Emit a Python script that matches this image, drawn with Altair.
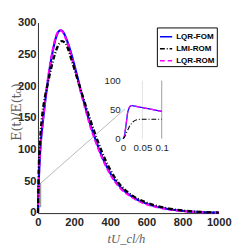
import altair as alt
import pandas as pd

series_names = ["LQR-FOM", "LMI-ROM", "LQR-ROM"]
series_colors = ["#0000ff", "#000000", "#ff00ff"]
series_dash = [[1, 0], [5, 2, 1, 2], [5, 3]]

# main curves
t_fom = [0, 4, 9, 16, 26, 38, 50, 60, 70, 81, 98, 110, 124, 140, 155, 168, 193, 215, 237, 262, 288, 317, 350, 400, 453, 520, 600, 700, 800, 900, 1000]
v_fom = [0, 45, 80, 112, 141, 171, 198, 219, 237, 254, 275, 284, 288, 285, 276, 266, 242, 218, 193, 167, 141, 117, 92, 63, 42, 26, 15, 7.5, 3.5, 1.5, 0.7]

t_rom = [0, 4, 9, 16, 26, 38, 50, 60, 70, 81, 98, 110, 122, 140, 155, 168, 193, 215, 237, 262, 288, 317, 350, 400, 453, 520, 600, 700, 800, 900, 1000]
v_rom = [0, 47, 83, 115, 144, 174, 201, 221, 239, 256, 277, 285, 288, 284, 274, 264, 239, 215, 190, 164, 138, 114, 90, 61, 40, 25, 14, 7, 3.2, 1.3, 0.6]

t_lmi = [0, 4, 9, 15, 25, 40, 55, 72, 90, 110, 133, 155, 185, 210, 237, 262, 288, 317, 350, 400, 453, 520, 600, 700, 800, 900, 1000]
v_lmi = [0, 65, 100, 128, 158, 185, 205, 227, 247, 263, 271, 266, 242, 219, 194, 171, 148, 124, 99, 68, 45, 28, 16.5, 8.5, 4, 1.8, 0.8]

# inset curves (zoom of 0 <= t <= 0.1)
ti_lqr = [0, 0.003, 0.006, 0.009, 0.012, 0.016, 0.021, 0.03, 0.05, 0.07, 0.1]
vi_fom = [0, 3, 15, 30, 45, 53, 57, 56, 53.5, 51, 47]
vi_rom = [0, 3, 16, 31, 46, 54, 57, 56, 53.5, 51, 47]
ti_lmi = [0, 0.005, 0.01, 0.015, 0.02, 0.025, 0.03, 0.04, 0.05, 0.07, 0.1]
vi_lmi = [0, 4, 12, 19, 24.5, 28.5, 31, 33, 33.5, 33.5, 33.5]

inset_grid_t = [0.05, 0.1]
inset_grid_color = ["#d9d9d9", "#808080"]
zoom_box_t = [0, 15]
zoom_box_v = [10, 47]
connector_t = [15, 481]
connector_v = [47, 164]

L, T, W, H = 39, 19, 187, 197
ix0, ix1, iy0, iy1 = 127, 167, 139, 79

def df(t, v, s):
    return pd.DataFrame({"t": t, "v": v, "s": s})

color_scale = alt.Scale(domain=series_names, range=series_colors)
dash_scale = alt.Scale(domain=series_names, range=series_dash)
legend = alt.Legend(orient="none", legendX=162 - L, legendY=24 - T, title=None,
                    symbolType="stroke", symbolSize=160, symbolStrokeWidth=1.5,
                    labelFontSize=8.3, labelFontWeight="bold", labelFont="Liberation Sans",
                    strokeColor="black", fillColor="white", padding=2, rowPadding=1.5,
                    labelColor="black", labelOffset=3)

xmain = alt.X("t:Q", scale=alt.Scale(domain=[0, 1000], nice=False),
              axis=alt.Axis(values=[0, 200, 400, 600, 800, 1000], format="d", title="tU_cl/h",
                            labelFontWeight="bold", labelFontSize=11.5, labelFont="Liberation Sans",
                            labelColor="#262626", labelPadding=4, labelFlush=False,
                            labelOverlap=False, ticks=False, grid=False,
                            domainColor="#262626", titleFont="Liberation Serif",
                            titleFontStyle="italic", titleFontWeight="normal", titleFontSize=13,
                            titleColor="#606060", titleBaseline="alphabetic",
                            titleX=130 - L, titleY=246 - (T + H)))
ymain = alt.Y("v:Q", scale=alt.Scale(domain=[0, 300], nice=False),
              axis=alt.Axis(values=[0, 50, 100, 150, 200, 250, 300], title="E(t)/E(t₀)",
                            labelFontWeight="bold", labelFontSize=11.5, labelFont="Liberation Sans",
                            labelColor="#262626", labelPadding=2, labelFlush=False,
                            labelOverlap=False, ticks=False, grid=False,
                            domainColor="#262626", titleFont="DejaVu Serif",
                            titleFontWeight="normal", titleFontSize=13, titleColor="#606060",
                            titleBaseline="alphabetic", titleX=20.5 - L, titleY=111 - T))

def main_line(t, v, s, w):
    return alt.Chart(df(t, v, s)).mark_line(strokeWidth=w, interpolate="monotone").encode(
        x=xmain, y=ymain,
        color=alt.Color("s:N", scale=color_scale, legend=legend),
        strokeDash=alt.StrokeDash("s:N", scale=dash_scale, legend=legend))

box = alt.Chart(pd.DataFrame({"t": [zoom_box_t[0]], "t2": [zoom_box_t[1]],
                              "v": [zoom_box_v[0]], "v2": [zoom_box_v[1]]})).mark_rect(
    fillOpacity=0, stroke="#666666", strokeWidth=0.8).encode(
    x=xmain, x2="t2:Q", y=ymain, y2="v2:Q")
conn = alt.Chart(pd.DataFrame({"t": [connector_t[0]], "t2": [connector_t[1]],
                               "v": [connector_v[0]], "v2": [connector_v[1]]})).mark_rule(
    color="#999999", strokeWidth=0.7).encode(x=xmain, x2="t2:Q", y=ymain, y2="v2:Q")

main = alt.layer(box, conn,
                 main_line(t_fom, v_fom, "LQR-FOM", 2.2),
                 main_line(t_rom, v_rom, "LQR-ROM", 2.2),
                 main_line(t_lmi, v_lmi, "LMI-ROM", 2.4))

xin = alt.X("t:Q", scale=alt.Scale(domain=[0, 0.1], range=[ix0 - L, ix1 - L], nice=False),
            axis=alt.Axis(orient="bottom", offset=-(T + H - iy0), values=[0, 0.05, 0.1],
                          format="~g", domain=False, ticks=False, grid=False, title=None,
                          labelFontSize=10, labelFont="Liberation Sans", labelColor="#262626",
                          labelPadding=4, labelFlush=False, labelOverlap=False))
yin = alt.Y("v:Q", scale=alt.Scale(domain=[0, 100], range=[iy0 - T, iy1 - T], nice=False),
            axis=alt.Axis(orient="left", offset=-(ix0 - L), values=[0, 50, 100],
                          domain=False, ticks=False, grid=False, title=None,
                          labelFontSize=10, labelFont="Liberation Sans", labelColor="#262626",
                          labelPadding=3, labelFlush=False, labelOverlap=False))

grid = alt.Chart(pd.DataFrame({"t": inset_grid_t, "c": inset_grid_color,
                               "v": [0, 0], "v2": [100, 100]})).mark_rule(strokeWidth=0.8).encode(
    x=xin, y=yin, y2="v2:Q", color=alt.Color("c:N", scale=None))

def inset_line(t, v, s, w):
    return alt.Chart(df(t, v, s)).mark_line(strokeWidth=w, interpolate="monotone").encode(
        x=xin, y=yin,
        color=alt.Color("s:N", scale=color_scale, legend=legend),
        strokeDash=alt.StrokeDash("s:N", scale=dash_scale, legend=legend))

inset = alt.layer(grid,
                  inset_line(ti_lqr, vi_fom, "LQR-FOM", 1.3),
                  inset_line(ti_lqr, vi_rom, "LQR-ROM", 1.3),
                  inset_line(ti_lmi, vi_lmi, "LMI-ROM", 1.1))

chart = alt.layer(main, inset).resolve_scale(x="independent", y="independent").properties(
    width=W, height=H, autosize=alt.AutoSizeParams(type="none"),
    padding={"left": L - 8, "top": T - 8, "right": 241 - (L - 8) - W, "bottom": 241 - (T - 8) - H}
).configure_view(stroke=None)

chart.save("out.html", embed_options={"renderer": "svg", "actions": False})
